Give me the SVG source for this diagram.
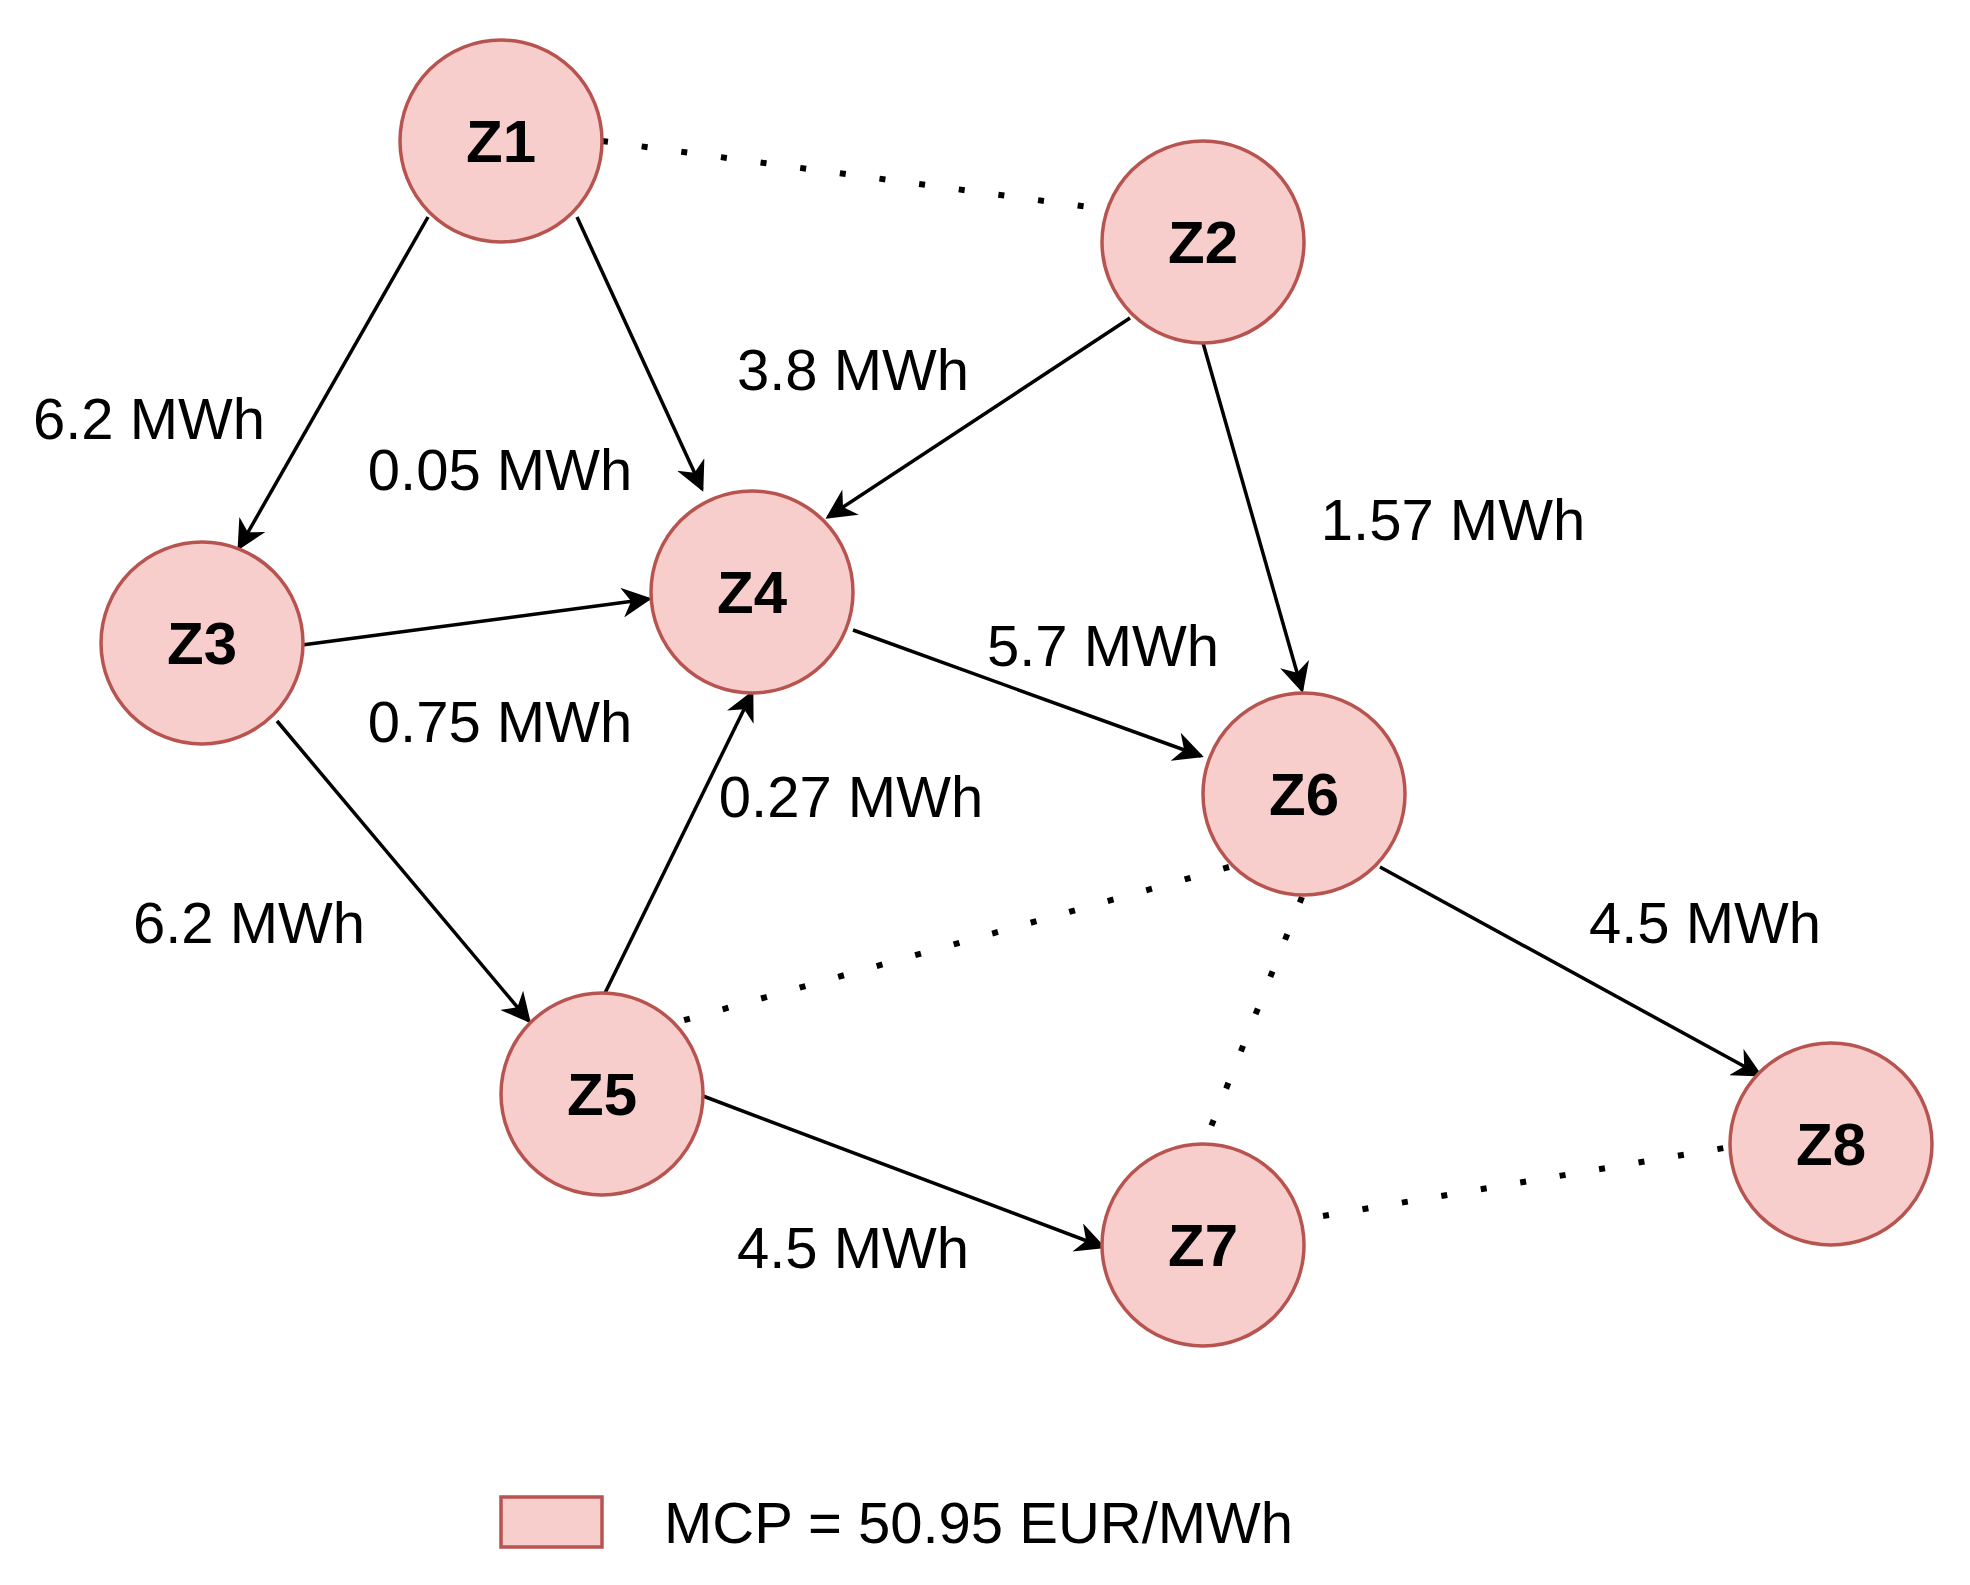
<svg xmlns="http://www.w3.org/2000/svg" width="1970" height="1585" viewBox="0 0 1970 1585">
<style>
.n{fill:#f8cecc;stroke:#b85450;stroke-width:3.5}
.t{font-family:"Liberation Sans",Arial,sans-serif;font-size:60px;font-weight:bold;text-anchor:middle;dominant-baseline:central;fill:#000}
.l{font-family:"Liberation Sans",Arial,sans-serif;font-size:58px;text-anchor:middle;dominant-baseline:central;fill:#000}
.e{stroke:#000;stroke-width:3.5;fill:none;marker-end:url(#a)}
.d{stroke:#000;stroke-width:6;fill:none;stroke-dasharray:6 34}
</style>
<defs><marker id="a" viewBox="0 0 20 20" refX="18" refY="10" markerWidth="30" markerHeight="30" markerUnits="userSpaceOnUse" orient="auto"><path d="M0,0 L20,10 L0,20 L6,10 Z" fill="#000"/></marker></defs>
<rect width="1970" height="1585" fill="#fff"/>
<g id="connectors">
<line class="e" x1="428" y1="217" x2="239" y2="548"/>
<line class="e" x1="577" y1="217" x2="702" y2="489"/>
<line class="e" x1="1130" y1="318" x2="828" y2="517"/>
<line class="e" x1="1203" y1="343" x2="1302" y2="690"/>
<line class="e" x1="302" y1="645" x2="649" y2="599"/>
<line class="e" x1="277" y1="721" x2="529" y2="1021"/>
<line class="e" x1="605" y1="993" x2="752" y2="693"/>
<line class="e" x1="853" y1="630" x2="1201" y2="756"/>
<line class="e" x1="1380" y1="867" x2="1760" y2="1075"/>
<line class="e" x1="703" y1="1096" x2="1103" y2="1247"/>
<line class="d" x1="602" y1="141" x2="1096" y2="208"/>
<line class="d" x1="1229" y1="867" x2="674" y2="1023"/>
<line class="d" x1="1302" y1="897" x2="1203" y2="1147"/>
<line class="d" x1="1323" y1="1216" x2="1730" y2="1147"/>
<text class="l" x="149" y="418">6.2 MWh</text>
<text class="l" x="500" y="469">0.05 MWh</text>
<text class="l" x="853" y="369">3.8 MWh</text>
<text class="l" x="1453" y="519">1.57 MWh</text>
<text class="l" x="1103" y="645">5.7 MWh</text>
<text class="l" x="500" y="721">0.75 MWh</text>
<text class="l" x="851" y="796">0.27 MWh</text>
<text class="l" x="249" y="922">6.2 MWh</text>
<text class="l" x="1705" y="922">4.5 MWh</text>
<text class="l" x="853" y="1247">4.5 MWh</text>
</g>
<g id="Z1"><circle class="n" cx="501" cy="141" r="101"/><text class="t" x="501" y="141">Z1</text></g>
<g id="Z2"><circle class="n" cx="1203" cy="242" r="101"/><text class="t" x="1203" y="242">Z2</text></g>
<g id="Z3"><circle class="n" cx="202" cy="643" r="101"/><text class="t" x="202" y="643">Z3</text></g>
<g id="Z4"><circle class="n" cx="752" cy="592" r="101"/><text class="t" x="752" y="592">Z4</text></g>
<g id="Z5"><circle class="n" cx="602" cy="1094" r="101"/><text class="t" x="602" y="1094">Z5</text></g>
<g id="Z6"><circle class="n" cx="1304" cy="794" r="101"/><text class="t" x="1304" y="794">Z6</text></g>
<g id="Z7"><circle class="n" cx="1203" cy="1245" r="101"/><text class="t" x="1203" y="1245">Z7</text></g>
<g id="Z8"><circle class="n" cx="1831" cy="1144" r="101"/><text class="t" x="1831" y="1144">Z8</text></g>
<g id="legend"><rect class="n" x="501" y="1497" width="101" height="50"/><text class="l" x="664" y="1522" style="text-anchor:start">MCP = 50.95 EUR/MWh</text></g>
</svg>
